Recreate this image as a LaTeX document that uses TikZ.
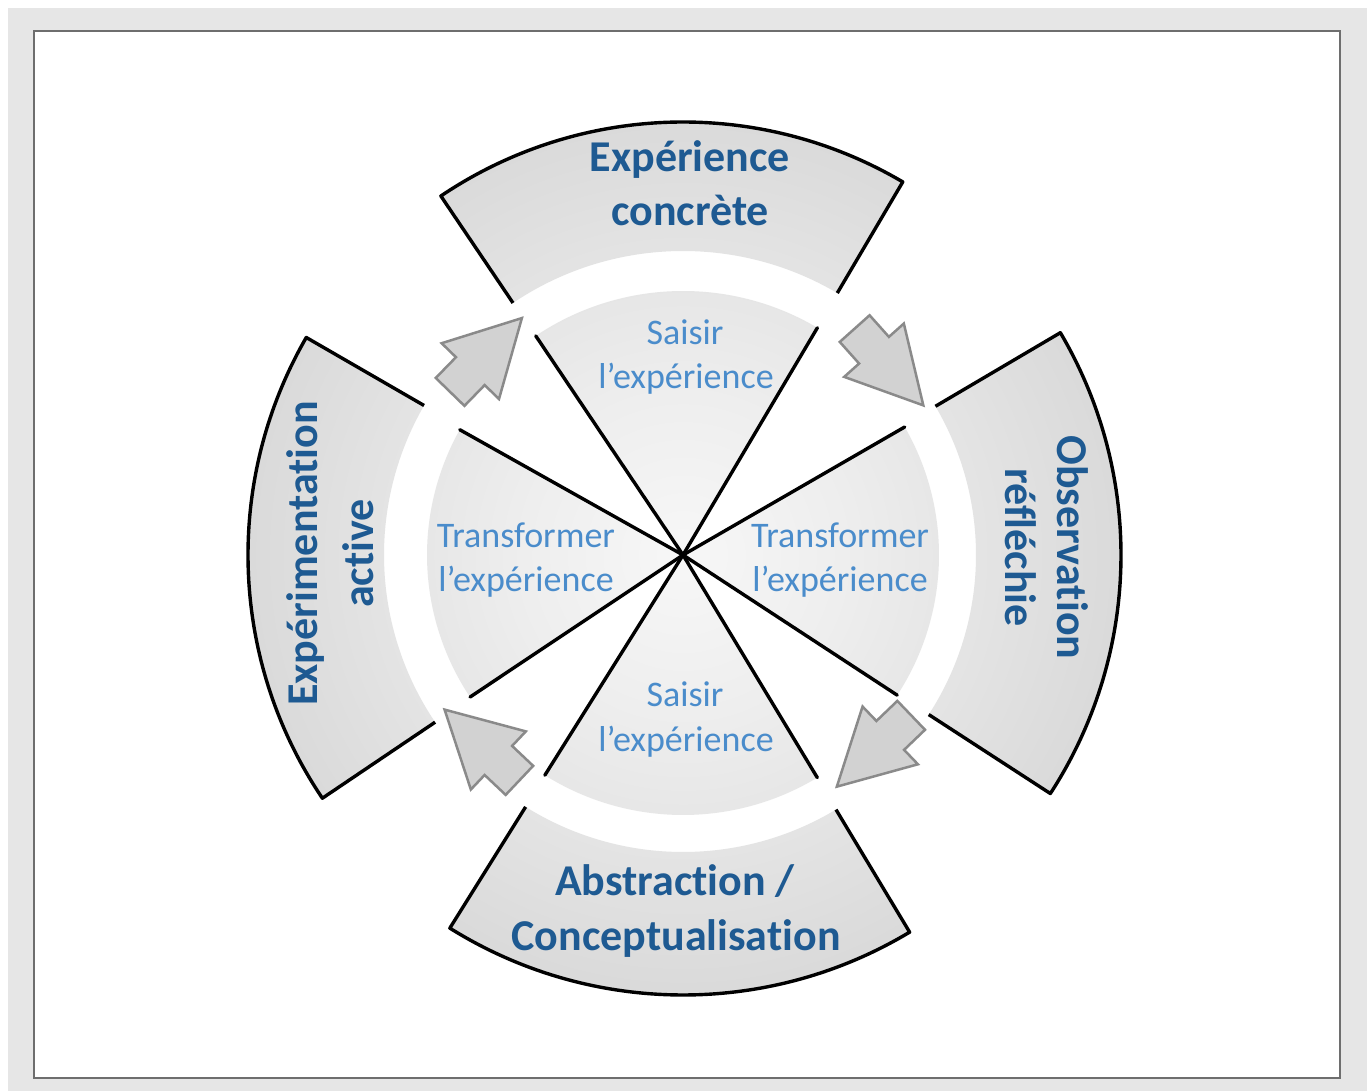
\documentclass[tikz,border=0pt]{standalone}
\usepackage{fontspec}
\newfontfamily\carlito[Ligatures=NoCommon]{Carlito}
\definecolor{pagegray}{HTML}{E6E6E6}
\definecolor{framegray}{HTML}{6E6E6E}
\definecolor{stageblue}{HTML}{1E5A92}
\definecolor{phaseblue}{HTML}{4A8CCB}
\definecolor{arrowfill}{HTML}{D2D2D2}
\definecolor{arrowline}{HTML}{8A8A8A}
\definecolor{shA}{HTML}{F7F7F7}
\definecolor{shB}{HTML}{EEEEEE}
\definecolor{shC}{HTML}{D3D3D3}
\definecolor{shD}{HTML}{E1E1E1}
\definecolor{shE}{HTML}{CFCFCF}
% radial grey ramp: 1bp of the shading = 10 units when painted on a circle of radius 500
\pgfdeclareradialshading{discshade}{\pgfpointorigin}{%
  color(0bp)=(shA); color(8bp)=(shB); color(26.5bp)=(shC);
  color(27bp)=(shD); color(30bp)=(shD); color(44bp)=(shE); color(50bp)=(shE)}
\begin{document}
\begin{tikzpicture}[x=1pt,y=1pt,
  rim/.style={draw=black, line width=3.4pt, line join=round},
  spoke/.style={draw=black, line width=3.4pt, line cap=round},
  cyclearrow/.style={fill=arrowfill, draw=arrowline, line width=2.5pt, line join=miter},
  stagelabel/.style={font=\carlito\bfseries\fontsize{44}{50}\selectfont, text=stageblue, inner sep=0pt, anchor=base},
  phaselabel/.style={font=\carlito\fontsize{36}{44}\selectfont, text=phaseblue, inner sep=0pt, anchor=base}]
\useasboundingbox (0,0) rectangle (1372,1091);
% page background and framed panel
\fill[pagegray] (8,0) rectangle (1367,1083);
\draw[framegray, line width=2pt, fill=white] (34,13) rectangle (1340,1060);

\coordinate (C) at (683,536);

% outer bands: start angle / end angle / inner radius / outer radius
\foreach \a/\b/\ri/\ro in {124/59.5/304/433, 30.5/-33/293/438, 301/238/297/440, 214/150/299/435}{
  \begin{scope}
    \clip ([shift={(\a:\ri)}]C) -- ([shift={(\a:\ro)}]C)
      arc[start angle=\a, end angle=\b, radius=\ro]
      -- ([shift={(\b:\ri)}]C)
      arc[start angle=\b, end angle=\a, radius=\ri] -- cycle;
    \shade[shading=discshade] (C) circle[radius=500];
  \end{scope}
  \draw[rim] ([shift={(\a:\ri)}]C) -- ([shift={(\a:\ro)}]C)
      arc[start angle=\a, end angle=\b, radius=\ro]
      -- ([shift={(\b:\ri)}]C);
}

% inner sectors: start angle / end angle / radius
\foreach \a/\b/\r in {59.4/123.9/264, -33.2/30/256, 237.9/301.1/260, 150.7/213.7/256}{
  \begin{scope}
    \clip (C) -- ([shift={(\a:\r)}]C) arc[start angle=\a, end angle=\b, radius=\r] -- cycle;
    \shade[shading=discshade] (C) circle[radius=500];
  \end{scope}
  \draw[spoke] (C) -- ([shift={(\a:\r)}]C);
  \draw[spoke] (C) -- ([shift={(\b:\r)}]C);
}

% cycle arrows between the bands
\foreach \x/\y/\t in {486/736/45.8, 889/724/-48.2, 874/340/-136.2, 482/346/136.6}{
  \draw[cyclearrow, shift={(\x,\y)}, rotate=\t]
    (51.5,0) -- (-22.5,40) -- (-22.5,20) -- (-51.5,20) -- (-51.5,-20)
    -- (-22.5,-20) -- (-22.5,-40) -- cycle;
}

% stage labels
\node[stagelabel] (ec1) at (690,919) {Expérience};
\node[stagelabel] (ec2) at (690,865) {concrète};
\node[stagelabel, rotate=-90] (or1) at (1057,543.5) {Observation};
\node[stagelabel, rotate=-90] (or2) at (1005,543.5) {réfléchie};
\node[stagelabel] (ac1) at (675,195) {Abstraction /};
\node[stagelabel] (ac2) at (676,140) {Conceptualisation};
\node[stagelabel, rotate=90] (ea1) at (317,537.5) {Expérimentation};
\node[stagelabel, rotate=90] (ea2) at (373,537.5) {active};

% phase labels in the sectors
\node[phaselabel] (st1) at (685,746) {Saisir};
\node[phaselabel] (st2) at (686,702) {l’expérience};
\node[phaselabel] (sb1) at (685,384) {Saisir};
\node[phaselabel] (sb2) at (686,339) {l’expérience};
\node[phaselabel] (tl1) at (526,543) {Transformer};
\node[phaselabel] (tl2) at (526,499) {l’expérience};
\node[phaselabel] (tr1) at (840,543) {Transformer};
\node[phaselabel] (tr2) at (840,499) {l’expérience};
\end{tikzpicture}
\end{document}
